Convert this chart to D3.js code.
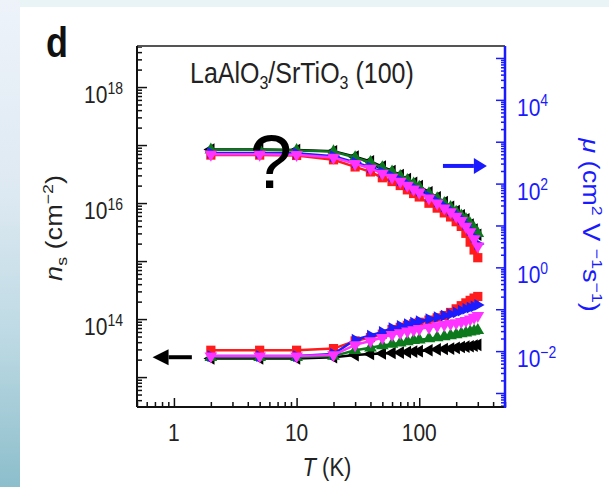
<!DOCTYPE html>
<html>
<head>
<meta charset="utf-8">
<script src="https://cdn.jsdelivr.net/npm/d3@7"></script>
<style>
    body { margin: 0; background: #fff; }
    svg { display: block; font-family: "Liberation Sans", Arial, sans-serif; }
</style>
</head>
<body>
<svg id="graph" width="609" height="487"></svg>
<script>
// temperatures (K)
const temps = [2, 5, 10, 20, 30, 40, 50, 60, 70, 80, 90, 100, 120, 140, 160, 180, 200, 220, 240, 260, 280, 300];

// mobility, cm2 V-1 s-1 (right axis)
const muBlack   = [650, 650, 630, 590, 440, 340, 255, 200, 160, 128, 104, 87, 62, 47, 36, 28, 22, 17.5, 14, 10.5, 8, 6];
const muGreen   = [640, 640, 620, 580, 420, 320, 240, 190, 150, 120, 98, 82, 58, 44, 34, 27, 21, 17, 14, 11, 8.5, 6.5];
const muRed     = [480, 480, 470, 370, 250, 190, 138, 112, 90, 71, 58, 48, 34, 26, 20, 16, 12.3, 9.5, 6.5, 4.0, 2.6, 1.7];
const muBlue    = [540, 540, 530, 450, 320, 245, 188, 150, 120, 97, 80, 67, 49, 37, 28.5, 22.5, 18, 14, 10.5, 7.7, 5.3, 3.6];
const muMagenta = [500, 500, 490, 420, 300, 230, 175, 140, 112, 90, 74, 62, 45, 34, 26, 21, 16.5, 13, 9.5, 7, 4.8, 3.2];

// sheet carrier density, cm-2 (left axis)
const nsBlack   = [2.1e13, 2.1e13, 2.1e13, 2.2e13, 2.4e13, 2.5e13, 2.55e13, 2.6e13, 2.65e13, 2.7e13, 2.75e13, 2.8e13, 2.9e13, 3.0e13, 3.05e13, 3.1e13, 3.2e13, 3.3e13, 3.35e13, 3.4e13, 3.5e13, 3.6e13];
const nsGreen   = [2.2e13, 2.2e13, 2.2e13, 2.3e13, 2.9e13, 3.2e13, 3.5e13, 3.7e13, 3.9e13, 4.1e13, 4.3e13, 4.4e13, 4.6e13, 4.8e13, 5.0e13, 5.2e13, 5.4e13, 5.6e13, 5.8e13, 6.0e13, 6.2e13, 6.4e13];
const nsRed     = [2.9e13, 2.9e13, 2.9e13, 3.1e13, 4.2e13, 4.8e13, 5.5e13, 6.6e13, 7.2e13, 7.8e13, 8.3e13, 8.8e13, 9.6e13, 1.05e14, 1.15e14, 1.3e14, 1.5e14, 1.7e14, 1.9e14, 2.1e14, 2.3e14, 2.45e14];
const nsBlue    = [2.3e13, 2.3e13, 2.3e13, 2.5e13, 4.4e13, 5.2e13, 6.0e13, 7.0e13, 7.6e13, 8.2e13, 8.7e13, 9.2e13, 1.0e14, 1.08e14, 1.15e14, 1.22e14, 1.3e14, 1.4e14, 1.5e14, 1.58e14, 1.65e14, 1.75e14];
const nsMagenta = [2.3e13, 2.3e13, 2.3e13, 2.4e13, 3.6e13, 4.2e13, 4.8e13, 5.4e13, 5.8e13, 6.2e13, 6.5e13, 6.8e13, 7.2e13, 7.6e13, 8.0e13, 8.3e13, 8.6e13, 9.0e13, 9.4e13, 1.0e14, 1.07e14, 1.15e14];

// tick labels
const xTickValues = [1, 10, 100];
const xTickLabels = ['1', '10', '100'];
const leftTickExps = [14, 16, 18];
const rightTickExps = [-2, 0, 2, 4];

(function () {
    let svg = d3.select('#graph'),
        frame = { left: 137, right: 505, top: 46, bottom: 407 },
        stretch = 1.18   // the source figure is stretched vertically
    ;

    // page background: light strips at top and left like the source page
    let defs = svg.append('defs');
    let grad = defs.append('linearGradient')
        .attr('id', 'side')
        .attr('x1', 0).attr('y1', 0).attr('x2', 0).attr('y2', 1);
    [[0, '#eef3fa'], [0.4, '#dde9f2'], [0.7, '#bcd9e3'], [1, '#8cbecb']].forEach(function (s) {
        grad.append('stop').attr('offset', s[0]).attr('stop-color', s[1]);
    });
    svg.append('rect').attr('width', 609).attr('height', 487).attr('fill', '#e9f4f7');
    svg.append('rect').attr('width', 20).attr('height', 487).attr('fill', 'url(#side)');
    svg.append('rect').attr('x', 20).attr('y', 7).attr('width', 589).attr('height', 480).attr('fill', '#fff');

    let x = d3.scaleLog().domain([0.5, 500]).range([frame.left, frame.right]),
        yL = d3.scaleLog().domain([3.05e12, 5.1e18]).range([frame.bottom, frame.top]),
        yR = d3.scaleLog().domain([4.63e-4, 1.93e5]).range([frame.bottom, frame.top])
    ;

    function minorTicks(scale, lo, hi) {
        let out = [],
            dom = scale.domain();
        for (let e = lo; e <= hi; ++e) {
            for (let m = 2; m <= 9; ++m) {
                let v = m * Math.pow(10, e);
                if (v >= dom[0] && v <= dom[1]) out.push(v);
            }
        }
        return out;
    }

    function drawAxis(axis, transform, color) {
        let g = svg.append('g')
            .attr('transform', transform)
            .call(axis);
        g.selectAll('text').remove();
        g.select('.domain').remove();
        g.selectAll('line').attr('stroke', color).attr('stroke-width', 1.5);
        return g;
    }

    // text anchored at (tx, ty), stretched vertically like the source
    function label(tx, ty, rot) {
        return svg.append('text')
            .attr('transform', `translate(${tx},${ty}) scale(1,${stretch})` + (rot ? ` rotate(${rot})` : ''));
    }

    // bottom axis (ticks pointing inward)
    drawAxis(d3.axisTop(x).tickValues([1, 10, 100]).tickSize(9).tickFormat(''),
        `translate(0,${frame.bottom})`, '#111');
    drawAxis(d3.axisTop(x).tickValues(minorTicks(x, -1, 2)).tickSize(5).tickFormat(''),
        `translate(0,${frame.bottom})`, '#111');

    // left axis
    drawAxis(d3.axisRight(yL).tickValues(d3.range(13, 19).map(function (e) { return Math.pow(10, e); }))
        .tickSize(10).tickFormat(''), `translate(${frame.left},0)`, '#111');
    drawAxis(d3.axisRight(yL).tickValues(minorTicks(yL, 12, 18)).tickSize(5).tickFormat(''),
        `translate(${frame.left},0)`, '#111');

    // right axis, blue
    drawAxis(d3.axisLeft(yR).tickValues(d3.range(-3, 6).map(function (e) { return Math.pow(10, e); }))
        .tickSize(9).tickFormat(''), `translate(${frame.right},0)`, '#1a1aff');
    drawAxis(d3.axisLeft(yR).tickValues(minorTicks(yR, -4, 5)).tickSize(4).tickFormat(''),
        `translate(${frame.right},0)`, '#1a1aff');

    // frame lines
    svg.append('line')
        .attr('x1', frame.left).attr('x2', frame.right)
        .attr('y1', frame.top).attr('y2', frame.top)
        .attr('stroke', '#555').attr('stroke-width', 2);
    svg.append('line')
        .attr('x1', frame.left).attr('x2', frame.left)
        .attr('y1', frame.top).attr('y2', frame.bottom)
        .attr('stroke', '#111').attr('stroke-width', 2);
    svg.append('line')
        .attr('x1', frame.left).attr('x2', frame.right)
        .attr('y1', frame.bottom).attr('y2', frame.bottom)
        .attr('stroke', '#111').attr('stroke-width', 2);
    svg.append('line')
        .attr('x1', frame.right).attr('x2', frame.right)
        .attr('y1', frame.top).attr('y2', frame.bottom + 1)
        .attr('stroke', '#1a1aff').attr('stroke-width', 2.5);

    // tick labels
    xTickValues.forEach(function (v, i) {
        label(x(v), 441)
            .attr('text-anchor', 'middle')
            .style('font-size', '21px')
            .attr('fill', '#222')
            .text(xTickLabels[i]);
    });

    function powLabel(sel, exp) {
        sel.append('tspan').text('10');
        sel.append('tspan')
            .attr('dy', -8)
            .style('font-size', '14px')
            .text(String(exp).replace('-', '\u2212'));
    }

    leftTickExps.forEach(function (e) {
        let t = label(123, yL(Math.pow(10, e)) + 16)
            .attr('text-anchor', 'end')
            .style('font-size', '21px')
            .attr('fill', '#222');
        powLabel(t, e);
    });

    rightTickExps.forEach(function (e) {
        let t = label(517, yR(Math.pow(10, e)) + 16)
            .style('font-size', '21px')
            .attr('fill', '#1a1aff');
        powLabel(t, e);
    });

    // axis titles
    label(327, 476)
        .attr('text-anchor', 'middle')
        .style('font-size', '22px')
        .attr('fill', '#222')
        .call(function (t) {
            t.append('tspan').style('font-style', 'italic').text('T');
            t.append('tspan').text(' (K)');
        });

    label(62, 228, -90)
        .attr('text-anchor', 'middle')
        .style('font-size', '23px')
        .attr('fill', '#222')
        .call(function (t) {
            t.append('tspan').style('font-style', 'italic').text('n');
            t.append('tspan').attr('dy', 5).style('font-size', '15px').text('s');
            t.append('tspan').attr('dy', -5).text(' (cm');
            t.append('tspan').attr('dy', -9).style('font-size', '15px').text('\u22122');
            t.append('tspan').attr('dy', 9).text(')');
        });

    label(583, 225, 90)
        .attr('text-anchor', 'middle')
        .style('font-size', '23px')
        .attr('fill', '#1a1aff')
        .call(function (t) {
            t.append('tspan').style('font-style', 'italic').text('\u03bc');
            t.append('tspan').text(' (cm');
            t.append('tspan').attr('dy', -9).style('font-size', '15px').text('2');
            t.append('tspan').attr('dy', 9).text(' V ');
            t.append('tspan').attr('dy', -9).style('font-size', '15px').text('\u22121');
            t.append('tspan').attr('dy', 9).text('s');
            t.append('tspan').attr('dy', -9).style('font-size', '15px').text('\u22121');
            t.append('tspan').attr('dy', 9).text(')');
        });

    // panel letter and sample title
    label(46, 57)
        .style('font-size', '36px')
        .style('font-weight', 'bold')
        .attr('fill', '#111')
        .text('d');

    label(190, 83)
        .style('font-size', '25px')
        .attr('fill', '#222')
        .call(function (t) {
            t.append('tspan').text('LaAlO');
            t.append('tspan').attr('dy', 5).style('font-size', '16px').text('3');
            t.append('tspan').attr('dy', -5).text('/SrTiO');
            t.append('tspan').attr('dy', 5).style('font-size', '16px').text('3');
            t.append('tspan').attr('dy', -5).text(' (100)');
        });

    // data
    let samples = [
        { id: 'black', mu: muBlack, ns: nsBlack },
        { id: 'green', mu: muGreen, ns: nsGreen },
        { id: 'red', mu: muRed, ns: nsRed },
        { id: 'blue', mu: muBlue, ns: nsBlue },
        { id: 'magenta', mu: muMagenta, ns: nsMagenta }
    ];
    let style = {
        black:   { color: '#000000', type: d3.symbolTriangle, rot: -90, size: 70 },
        green:   { color: '#0c7a1c', type: d3.symbolTriangle, rot: 0, size: 70 },
        red:     { color: '#ff1c1c', type: d3.symbolSquare, rot: 0, size: 85 },
        blue:    { color: '#1c1cff', type: d3.symbolTriangle, rot: 90, size: 60 },
        magenta: { color: '#ff33ff', type: d3.symbolTriangle, rot: 180, size: 70 }
    };

    function drawSeries(key, yScale) {
        samples.forEach(function (s) {
            let st = style[s.id],
                pts = temps.map(function (t, i) { return { t: t, v: s[key][i] }; });
            let line = d3.line()
                .x(function (d) { return x(d.t); })
                .y(function (d) { return yScale(d.v); });
            let g = svg.append('g').attr('class', 'series ' + key + ' ' + s.id);
            g.append('path')
                .attr('d', line(pts))
                .style('fill', 'none')
                .style('stroke', st.color)
                .style('stroke-width', '2.5px');
            g.selectAll('path.pt')
                .data(pts)
                .enter().append('path')
                .attr('class', 'pt')
                .attr('d', d3.symbol().type(st.type).size(st.size))
                .attr('transform', function (d) {
                    return 'translate(' + x(d.t) + ',' + yScale(d.v) + ') rotate(' + st.rot + ')';
                })
                .style('fill', st.color);
        });
    }
    drawSeries('mu', yR);
    drawSeries('ns', yL);

    // arrows pointing to the matching axis
    function arrow(x1, x2, yy, color, head) {
        let dir = x2 > x1 ? 1 : -1;
        svg.append('line')
            .attr('x1', x1).attr('x2', x2 - dir * head)
            .attr('y1', yy).attr('y2', yy)
            .attr('stroke', color).attr('stroke-width', 4);
        svg.append('path')
            .attr('d', `M${x2},${yy} L${x2 - dir * head},${yy - 8} L${x2 - dir * head},${yy + 8} Z`)
            .attr('fill', color);
    }
    arrow(x(1.4), x(0.67), yL(2.2e13), '#000', 16);
    arrow(x(156), x(356), yR(264), '#1a1aff', 13);

    // overlay mark from the source image
    svg.append('text')
        .attr('x', 271).attr('y', 188)
        .attr('text-anchor', 'middle')
        .style('font-size', '76px')
        .attr('fill', '#000')
        .text('?');
}());
</script>
</body>
</html>
